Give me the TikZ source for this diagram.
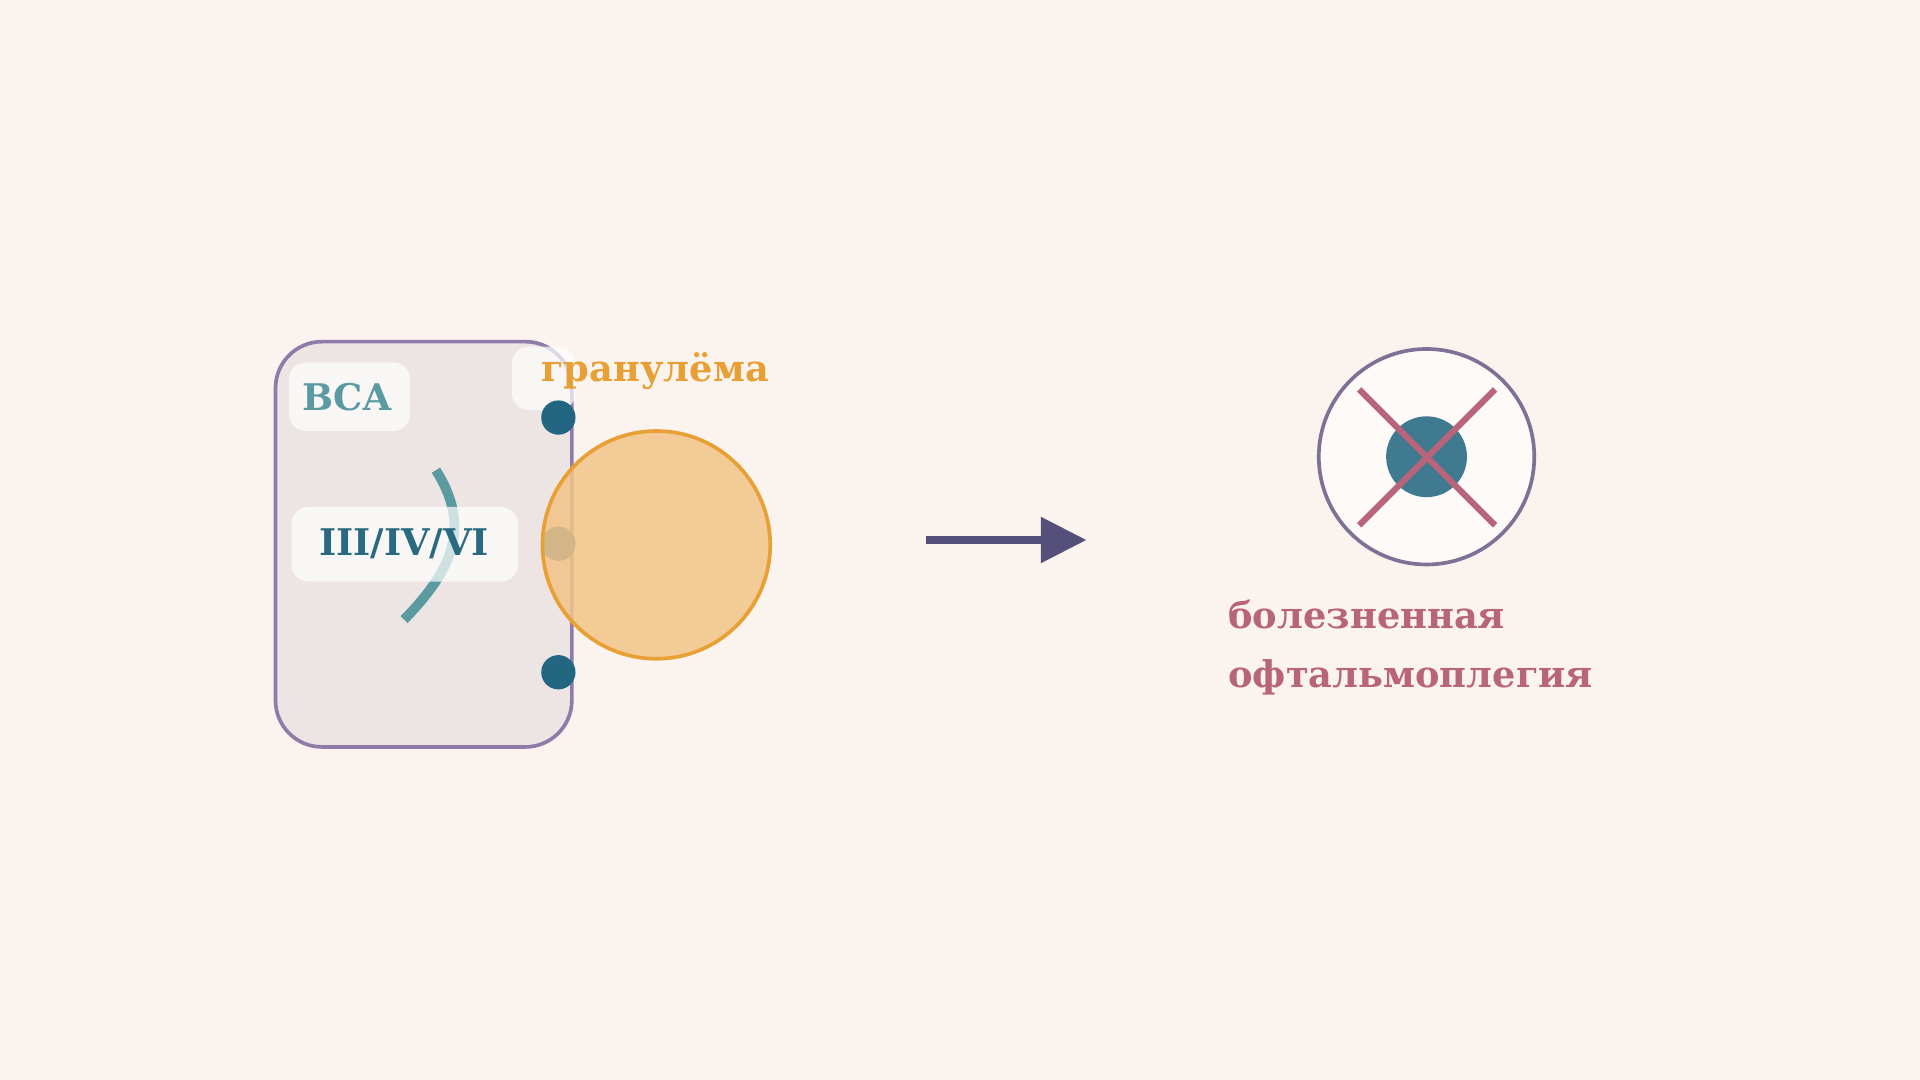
\documentclass[tikz,border=0pt]{standalone}
\usepackage{fontspec}
\setmainfont{DejaVu Serif}
\begin{document}
\begin{tikzpicture}[x=1pt,y=-1pt,
 lbl/.style={font=\bfseries\fontsize{30}{34}\selectfont,inner sep=0pt},
 pill/.style={fill=white,fill opacity=0.7,rounded corners=14pt,draw=none},
 dot/.style={circle,fill=dotc,minimum size=28pt,inner sep=0pt}]
\definecolor{bg}{HTML}{FAF3EE}
\definecolor{boxf}{HTML}{ECE5E4}
\definecolor{boxd}{HTML}{8E7BAA}
\definecolor{teal1}{HTML}{5A9AA0}
\definecolor{teal2}{HTML}{2A6A80}
\definecolor{dotc}{HTML}{236682}
\definecolor{orf}{HTML}{F2C488}
\definecolor{ord}{HTML}{E8A035}
\definecolor{arr}{HTML}{55507A}
\definecolor{cird}{HTML}{7E7196}
\definecolor{inner}{HTML}{3F7A90}
\definecolor{rose}{HTML}{B8647A}
\fill[bg] (0,0) rectangle (1568,882);
\useasboundingbox (0,0) rectangle (1568,882);
\draw[boxd,fill=boxf,line width=3pt,rounded corners=38pt] (225,279) rectangle (467,610);
\draw[teal1,line width=8pt] (356,384) .. controls (385,430) and (370,465) .. (330,506);
\fill[pill] (236,296) rectangle (335,352);
\fill[pill] (238,414) rectangle (423,475);
\fill[pill] (418,283) rectangle (470,335);
\node[lbl,text=teal1] (bca) at (284,324) {ВСА};
\node[lbl,text=teal2] (nerv) at (330,444) {III/IV/VI};
\node[dot] (d1) at (456,341) {};
\node[dot] (d2) at (456,444) {};
\node[dot] (d3) at (456,549) {};
\node[circle,minimum size=186pt,inner sep=0pt,fill=orf,fill opacity=0.85,draw=ord,line width=3pt] (gran) at (536,445) {};
\node[lbl,text=ord] (gl) at (535,303) {гранулёма};
\coordinate (a1) at (756,441);
\coordinate (a2) at (887,441);
\draw[arr,line width=6pt] (a1) -- (850,441);
\fill[arr] (850,422) -- (a2) -- (850,460) -- cycle;
\node[circle,minimum size=176pt,inner sep=0pt,fill=white!60!bg,draw=cird,line width=3pt] (eye) at (1165,373) {};
\node[circle,minimum size=66pt,inner sep=0pt,fill=inner] (pup) at (1165,373) {};
\coordinate (x1) at (1110,318); \coordinate (x2) at (1221,429);
\coordinate (x3) at (1221,318); \coordinate (x4) at (1110,429);
\draw[rose,line width=5pt] (x1) -- (x2) (x3) -- (x4);
\node[lbl,text=rose,align=left,anchor=north west,font=\bfseries\fontsize{30}{48}\selectfont] (t) at (1003,490) {болезненная\\офтальмоплегия};
\end{tikzpicture}
\end{document}
